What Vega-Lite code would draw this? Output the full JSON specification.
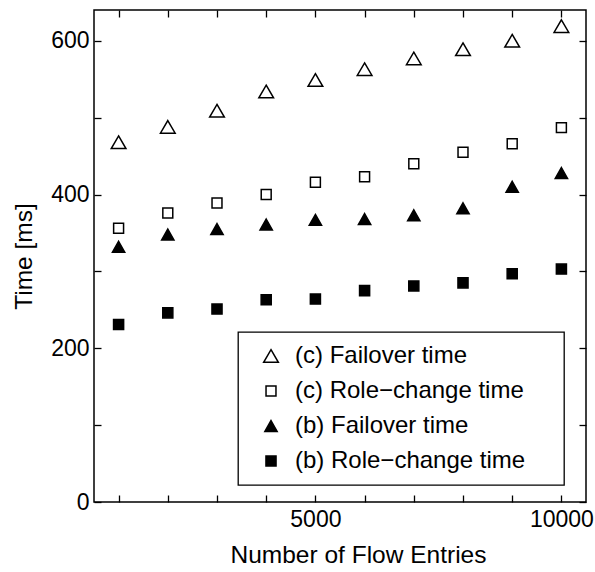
{
  "$schema": "https://vega.github.io/schema/vega-lite/v6.json",
  "autosize": {"type": "none"},
  "padding": {"left": 94, "top": 10, "right": 9, "bottom": 70},
  "width": 492,
  "height": 492,
  "config": {
    "view": {"stroke": "black", "strokeWidth": 1.5},
    "font": "Liberation Sans",
    "legend": {"strokeWidth": 1.3},
    "axis": {
      "domain": false,
      "grid": false,
      "tickColor": "black",
      "tickWidth": 1.3,
      "tickSize": -7,
      "labelColor": "black",
      "titleColor": "black",
      "labelFont": "Liberation Sans",
      "titleFont": "Liberation Sans",
      "labelFontSize": 23,
      "titleFontSize": 24.5,
      "titleFontWeight": "normal"
    }
  },
  "data": {
    "values": [
      {"entries": 1000, "time": 468, "series": "(c) Failover time"},
      {"entries": 2000, "time": 488, "series": "(c) Failover time"},
      {"entries": 3000, "time": 509, "series": "(c) Failover time"},
      {"entries": 4000, "time": 534, "series": "(c) Failover time"},
      {"entries": 5000, "time": 549, "series": "(c) Failover time"},
      {"entries": 6000, "time": 563, "series": "(c) Failover time"},
      {"entries": 7000, "time": 577, "series": "(c) Failover time"},
      {"entries": 8000, "time": 589, "series": "(c) Failover time"},
      {"entries": 9000, "time": 600, "series": "(c) Failover time"},
      {"entries": 10000, "time": 619, "series": "(c) Failover time"},
      {"entries": 1000, "time": 356, "series": "(c) Role−change time"},
      {"entries": 2000, "time": 376, "series": "(c) Role−change time"},
      {"entries": 3000, "time": 389, "series": "(c) Role−change time"},
      {"entries": 4000, "time": 400, "series": "(c) Role−change time"},
      {"entries": 5000, "time": 416, "series": "(c) Role−change time"},
      {"entries": 6000, "time": 423, "series": "(c) Role−change time"},
      {"entries": 7000, "time": 440, "series": "(c) Role−change time"},
      {"entries": 8000, "time": 455, "series": "(c) Role−change time"},
      {"entries": 9000, "time": 466, "series": "(c) Role−change time"},
      {"entries": 10000, "time": 487, "series": "(c) Role−change time"},
      {"entries": 1000, "time": 332, "series": "(b) Failover time"},
      {"entries": 2000, "time": 348, "series": "(b) Failover time"},
      {"entries": 3000, "time": 355, "series": "(b) Failover time"},
      {"entries": 4000, "time": 361, "series": "(b) Failover time"},
      {"entries": 5000, "time": 367, "series": "(b) Failover time"},
      {"entries": 6000, "time": 368, "series": "(b) Failover time"},
      {"entries": 7000, "time": 373, "series": "(b) Failover time"},
      {"entries": 8000, "time": 382, "series": "(b) Failover time"},
      {"entries": 9000, "time": 410, "series": "(b) Failover time"},
      {"entries": 10000, "time": 428, "series": "(b) Failover time"},
      {"entries": 1000, "time": 231, "series": "(b) Role−change time"},
      {"entries": 2000, "time": 246, "series": "(b) Role−change time"},
      {"entries": 3000, "time": 251, "series": "(b) Role−change time"},
      {"entries": 4000, "time": 263, "series": "(b) Role−change time"},
      {"entries": 5000, "time": 264, "series": "(b) Role−change time"},
      {"entries": 6000, "time": 275, "series": "(b) Role−change time"},
      {"entries": 7000, "time": 281, "series": "(b) Role−change time"},
      {"entries": 8000, "time": 285, "series": "(b) Role−change time"},
      {"entries": 9000, "time": 297, "series": "(b) Role−change time"},
      {"entries": 10000, "time": 303, "series": "(b) Role−change time"}
    ]
  },
  "layer": [
    {
      "mark": {"type": "point", "filled": true, "size": 196, "strokeWidth": 1.5, "opacity": 1},
      "encoding": {
        "x": {
          "field": "entries", "type": "quantitative",
          "scale": {"domain": [500, 10500], "nice": false, "zero": false},
          "axis": {
            "orient": "bottom",
            "values": [1000, 2000, 3000, 4000, 5000, 6000, 7000, 8000, 9000, 10000],
            "format": "d",
            "labelExpr": "datum.value % 5000 === 0 ? datum.label : ''",
            "labelPadding": 13,
            "labelFlush": false,
            "labelOverlap": false,
            "title": "Number of Flow Entries",
            "titleX": 264,
            "titleAlign": "center",
            "titleY": 60,
            "titleBaseline": "alphabetic"
          }
        },
        "y": {
          "field": "time", "type": "quantitative",
          "scale": {"domain": [0, 640], "nice": false},
          "axis": {
            "orient": "left",
            "values": [0, 100, 200, 300, 400, 500, 600],
            "labelExpr": "datum.value % 200 === 0 ? datum.label : ''",
            "labelPadding": 12,
            "labelFlush": false,
            "labelOverlap": false,
            "title": "Time [ms]",
            "titleX": -63,
            "titleBaseline": "alphabetic"
          }
        },
        "shape": {
          "field": "series", "type": "nominal",
          "scale": {
            "domain": ["(c) Failover time", "(c) Role−change time", "(b) Failover time", "(b) Role−change time"],
            "range": ["M0,-0.9L1.05,0.9L-1.05,0.9Z", "M-0.71,-0.71L0.71,-0.71L0.71,0.71L-0.71,0.71Z", "M0,-0.78L0.88,0.78L-0.88,0.78Z", "M-0.72,-0.72L0.72,-0.72L0.72,0.72L-0.72,0.72Z"]
          },
          "legend": {
            "orient": "none", "legendX": 144, "legendY": 322, "title": null,
            "strokeColor": "black", "fillColor": "white",
            "padding": 12, "rowPadding": 11, "labelLimit": 500,
            "labelFont": "Liberation Sans", "labelFontSize": 24, "labelColor": "black",
            "labelOffset": 12, "symbolOffset": 9, "symbolSize": 196,
            "symbolStrokeWidth": 1.5,
            "labelExpr": "datum.label + '\u00a0\u00a0\u00a0\u00a0\u200b'"
          }
        },
        "fill": {
          "field": "series", "type": "nominal",
          "scale": {
            "domain": ["(c) Failover time", "(c) Role−change time", "(b) Failover time", "(b) Role−change time"],
            "range": ["white", "white", "black", "black"]
          },
          "legend": {
            "orient": "none", "legendX": 144, "legendY": 322, "title": null,
            "strokeColor": "black", "fillColor": "white",
            "padding": 12, "rowPadding": 11, "labelLimit": 500,
            "labelFont": "Liberation Sans", "labelFontSize": 24, "labelColor": "black",
            "labelOffset": 12, "symbolOffset": 9, "symbolSize": 196,
            "symbolStrokeWidth": 1.5,
            "labelExpr": "datum.label + '\u00a0\u00a0\u00a0\u00a0\u200b'"
          }
        },
        "stroke": {
          "field": "series", "type": "nominal",
          "scale": {
            "domain": ["(c) Failover time", "(c) Role−change time", "(b) Failover time", "(b) Role−change time"],
            "range": ["black", "black", "black", "black"]
          },
          "legend": {
            "orient": "none", "legendX": 144, "legendY": 322, "title": null,
            "strokeColor": "black", "fillColor": "white",
            "padding": 12, "rowPadding": 11, "labelLimit": 500,
            "labelFont": "Liberation Sans", "labelFontSize": 24, "labelColor": "black",
            "labelOffset": 12, "symbolOffset": 9, "symbolSize": 196,
            "symbolStrokeWidth": 1.5,
            "labelExpr": "datum.label + '\u00a0\u00a0\u00a0\u00a0\u200b'"
          }
        }
      }
    },
    {
      "mark": {"type": "point", "opacity": 0},
      "encoding": {
        "x": {
          "field": "entries", "type": "quantitative",
          "scale": {"domain": [500, 10500], "nice": false, "zero": false},
          "axis": {"orient": "top", "values": [1000, 2000, 3000, 4000, 5000, 6000, 7000, 8000, 9000, 10000], "labels": false, "title": null}
        },
        "y": {
          "field": "time", "type": "quantitative",
          "scale": {"domain": [0, 640], "nice": false},
          "axis": {"orient": "right", "values": [0, 100, 200, 300, 400, 500, 600], "labels": false, "title": null}
        }
      }
    }
  ],
  "resolve": {"axis": {"x": "independent", "y": "independent"}}
}
